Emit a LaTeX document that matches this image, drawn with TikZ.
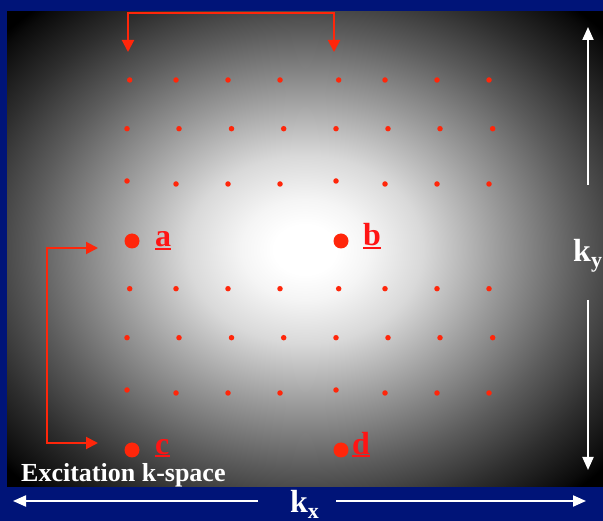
\documentclass[tikz,border=0pt]{standalone}
\usepackage{fontspec}
\setmainfont{Liberation Serif}
\usetikzlibrary{arrows.meta}
\definecolor{bgblue}{RGB}{0,20,120}
\definecolor{dotred}{RGB}{255,38,10}
\definecolor{labred}{RGB}{255,20,20}
\pgfdeclareradialshading{kspace}{\pgfpoint{0bp}{0bp}}{color(0bp)=(white); color(2.6bp)=(white); color(5.3bp)=(white!96!black); color(9.9bp)=(white!85!black); color(16.5bp)=(white!60!black); color(23bp)=(white!36!black); color(28.3bp)=(white!18!black); color(33bp)=(white!4!black); color(34bp)=(black); color(50bp)=(black)}
\begin{document}
\begin{tikzpicture}[x=1pt,y=-1pt,
  dot/.style={circle,fill=dotred,inner sep=0pt,minimum size=5.5pt},
  bigdot/.style={circle,fill=dotred,inner sep=0pt,minimum size=15pt},
  lab/.style={inner sep=0pt,anchor=base west,text=labred,font=\fontsize{32}{36}\selectfont\bfseries},
  uline/.style={draw=labred,line width=2pt},
  redarrow/.style={draw=dotred,line width=2pt,{Triangle[length=12pt,width=12pt]}-{Triangle[length=12pt,width=12pt]}},
  whitearrow/.style={draw=white,line width=2pt,-{Triangle[length=13pt,width=11pt]}},
  axlab/.style={inner sep=0pt,anchor=base west,text=white,font=\fontsize{32}{36}\selectfont\bfseries}]
\useasboundingbox (0,0) rectangle (603,521);
\fill[bgblue] (0,0) rectangle (603,521);
\fill[black] (7,12) rectangle (603,487);
\shade[shading=kspace] (7,12) rectangle (603,487);
% grid dots
\foreach \x [count=\i] in {129.7,176,228,280,338.7,385,437,489} {
  \node[dot] (rA\i) at (\x,80) {};
  \node[dot] (rD\i) at (\x,288.7) {};
}
\foreach \x [count=\i] in {127,179,231.5,283.7,336,388,440,492.7} {
  \node[dot] (rB\i) at (\x,128.7) {};
  \node[dot] (rE\i) at (\x,337.7) {};
}
\foreach \x/\y [count=\i] in {127/181,176/184,228/184,280/184,336/181,385/184,437/184,489/184} {
  \node[dot] (rC\i) at (\x,\y) {};
  \node[dot] (rF\i) at (\x,\y+209) {};
}
% big dots and labels
\node[bigdot] (pa) at (132,241) {};
\node[bigdot] (pb) at (341,241) {};
\node[bigdot] (pc) at (132,450) {};
\node[bigdot] (pd) at (341,450) {};
\node[lab] (la) at (155,246.5) {a};
\node[lab] (lb) at (363,246) {b};
\node[lab] (lc) at (155,454) {c};
\node[lab] (ld) at (352,454) {d};
\foreach \n in {la,lb,lc,ld} {
  \draw[uline] ([yshift=-2.5pt]\n.base west) -- ([yshift=-2.5pt]\n.base east);
}
% red brackets
\coordinate (tL) at (128,52);
\coordinate (tLc) at (128,13);
\coordinate (tRc) at (334,13);
\coordinate (tR) at (334,52);
\draw[redarrow] (tL) -- (tLc) -- (tRc) -- (tR);
\coordinate (lT) at (98,248);
\coordinate (lTc) at (47,248);
\coordinate (lBc) at (47,443);
\coordinate (lB) at (98,443);
\draw[redarrow] (lT) -- (lTc) -- (lBc) -- (lB);
% text
\node[inner sep=0pt,anchor=base west,text=white,font=\fontsize{26}{30}\selectfont\bfseries] (ex) at (21,482) {Excitation k-space};
\node[axlab] (kx) at (290,512) {k\raisebox{-6pt}{\fontsize{22}{24}\selectfont x}};
\node[axlab] (ky) at (573,262) {k\raisebox{-6pt}{\fontsize{22}{24}\selectfont y}};
% white axis arrows
\coordinate (kyT) at (588,27);
\coordinate (kyU) at (588,185);
\coordinate (kyL) at (588,300);
\coordinate (kyB) at (588,470);
\draw[whitearrow] (kyU) -- (kyT);
\draw[whitearrow] (kyL) -- (kyB);
\coordinate (kxL) at (13,501);
\coordinate (kxLe) at (258,501);
\coordinate (kxRs) at (336,501);
\coordinate (kxR) at (586,501);
\draw[whitearrow] (kxLe) -- (kxL);
\draw[whitearrow] (kxRs) -- (kxR);
\end{tikzpicture}
\end{document}
